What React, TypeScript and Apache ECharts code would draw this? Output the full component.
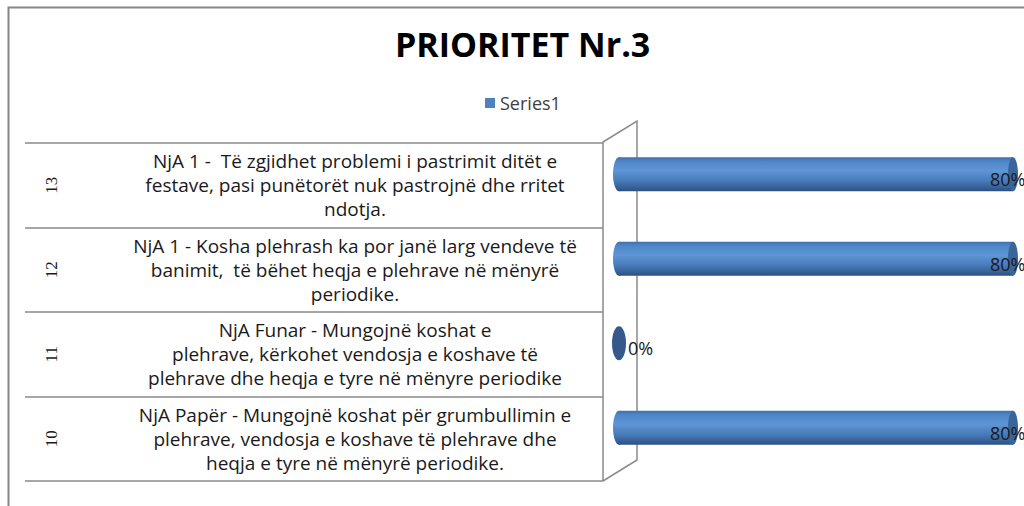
import React, { useEffect, useRef } from "react";
import * as echarts from "echarts";

const rowNumbers = ["10", "11", "12", "13"];
const descriptions = [
  "NjA Papër - Mungojnë koshat për grumbullimin e\nplehrave, vendosja e koshave të plehrave dhe\nheqja e tyre në mënyrë periodike.",
  "NjA Funar - Mungojnë koshat e\nplehrave, kërkohet vendosja e koshave të\nplehrave dhe heqja e tyre në mënyre periodike",
  "NjA 1 - Kosha plehrash ka por janë larg vendeve të\nbanimit,  të bëhet heqja e plehrave në mënyrë\nperiodike.",
  "NjA 1 -  Të zgjidhet problemi i pastrimit ditët e\nfestave, pasi punëtorët nuk pastrojnë dhe rritet\nndotja.",
];
const seriesName = "Series1";
const values = [80, 0, 80, 80];

const GRAY = "#8a8a8a";
const SANS = "'Open Sans', Lato, sans-serif";

export default function App() {
  const ref = useRef<HTMLDivElement>(null);
  useEffect(() => {
    if (!ref.current) return;
    const chart = echarts.init(ref.current, undefined, { renderer: "svg" });
    const bodyGrad = new echarts.graphic.LinearGradient(0, 0, 0, 1, [
      { offset: 0, color: "#3d70ad" },
      { offset: 0.12, color: "#4f86c7" },
      { offset: 0.4, color: "#5d95d6" },
      { offset: 0.72, color: "#4678b6" },
      { offset: 1, color: "#2c5182" },
    ]);
    chart.setOption({
      animation: false,
      title: {
        text: "PRIORITET Nr.3",
        left: 390,
        top: 22,
        textStyle: { fontFamily: SANS, fontSize: 34, fontWeight: "bold", color: "#000" },
      },
      legend: {
        data: [seriesName],
        left: 480,
        top: 89,
        icon: "rect",
        itemWidth: 10,
        itemHeight: 10,
        itemGap: 5,
        textStyle: { fontFamily: SANS, fontSize: 18, color: "#404040" },
      },
      grid: [
        { left: 25, top: 143, width: 578, height: 338, show: false },
        { left: 619, top: 132, width: 394, height: 338, show: false },
      ],
      xAxis: [
        { gridIndex: 0, type: "value", show: false, min: 0, max: 1 },
        { gridIndex: 1, type: "value", show: false, min: 0, max: 80 },
      ],
      yAxis: [
        {
          gridIndex: 0,
          type: "category",
          position: "left",
          data: descriptions,
          axisLine: { show: false },
          axisTick: { show: false },
          splitLine: { show: true, lineStyle: { color: GRAY, width: 1.5 } },
          axisLabel: {
            inside: true,
            margin: 330,
            align: "center",
            verticalAlign: "middle",
            fontFamily: SANS,
            fontSize: 19,
            lineHeight: 24,
            color: "#1a1a1a",
          },
        },
        {
          gridIndex: 0,
          type: "category",
          position: "left",
          offset: 0,
          data: rowNumbers,
          axisLine: { show: false },
          axisTick: { show: false },
          splitLine: { show: false },
          axisLabel: {
            inside: true,
            margin: 26,
            rotate: 90,
            align: "center",
            verticalAlign: "middle",
            fontFamily: "'Liberation Serif', serif",
            fontSize: 17,
            color: "#1a1a1a",
          },
        },
        {
          gridIndex: 1,
          type: "category",
          data: rowNumbers,
          show: false,
        },
      ],
      series: [
        {
          name: seriesName,
          type: "custom",
          xAxisIndex: 1,
          yAxisIndex: 2,
          itemStyle: { color: "#4f81bd" },
          data: values.map((v, i) => [v, i]),
          encode: { x: 0, y: 1 },
          clip: false,
          renderItem: (params: any, api: any) => {
            const v = api.value(0);
            const c = api.value(1);
            const s = api.coord([0, c]);
            const e = api.coord([v, c]);
            const h = 34;
            const cy = s[1];
            const children: any[] = [];
            if (v === 0) {
              children.push({
                type: "ellipse",
                shape: { cx: s[0], cy, rx: 7, ry: h / 2 },
                style: { fill: "#34598a" },
              });
            } else {
              children.push({
                type: "ellipse",
                shape: { cx: s[0], cy, rx: 6, ry: h / 2 },
                style: { fill: bodyGrad },
              });
              children.push({
                type: "rect",
                shape: { x: s[0], y: cy - h / 2, width: e[0] - s[0], height: h },
                style: { fill: bodyGrad },
              });
              children.push({
                type: "ellipse",
                shape: { cx: e[0], cy, rx: 5, ry: h / 2 },
                style: { fill: "#3a6598" },
              });
            }
            const lx = Math.max(e[0] - 23, s[0] + 9);
            children.push({
              type: "text",
              style: {
                x: lx,
                y: cy + 5,
                text: Math.round(v) + "%",
                fill: "#1a1a1a",
                font: "18px " + SANS,
                textAlign: "left",
                textVerticalAlign: "middle",
              },
            });
            return { type: "group", children };
          },
        },
      ],
      graphic: [
        {
          type: "polyline",
          shape: { points: [[8.5, 520], [8.5, 7.5], [1040, 7.5]] },
          style: { stroke: "#868686", lineWidth: 2, fill: "none" },
          silent: true,
        },
        {
          type: "polyline",
          shape: { points: [[603, 481], [603, 142], [637, 121], [637, 460], [603, 481]] },
          style: { stroke: GRAY, lineWidth: 1.5, fill: "none" },
          silent: true,
        },
      ],
    });
    return () => chart.dispose();
  }, []);
  return (
    <div
      ref={ref}
      style={{ position: "absolute", left: 0, top: 0, width: 1024, height: 506, background: "#fff" }}
    />
  );
}
